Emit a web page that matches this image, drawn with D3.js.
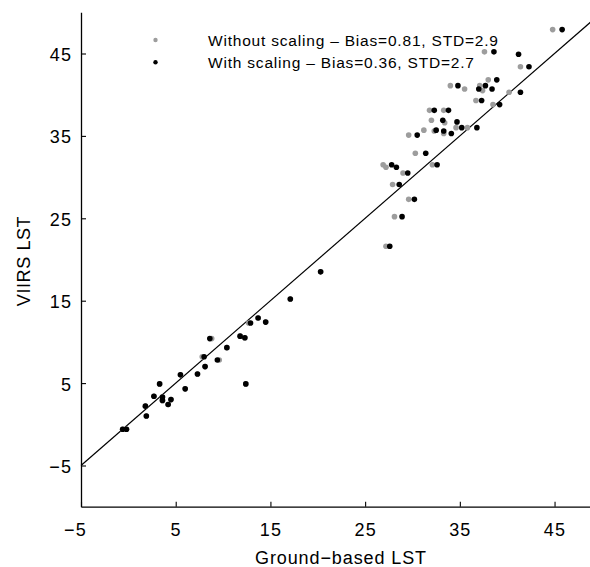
<!DOCTYPE html>
<html>
<head>
<meta charset="utf-8">
<script src="https://cdn.jsdelivr.net/npm/d3@7"></script>
<style>
  html, body { margin: 0; padding: 0; background: #fff; }
  svg { display: block; }
  text { font-family: "Liberation Sans", Arial, Helvetica, sans-serif; fill: #000; }
</style>
</head>
<body>
<svg id="chart" width="590" height="567"></svg>
<script>
// ---- data ----
const xTicks = [-5, 5, 15, 25, 35, 45];
const yTicks = [-5, 5, 15, 25, 35, 45];
const xLabel = "Ground\u2212based LST";
const yLabel = "VIIRS LST";
const legendLabels = [
  "Without scaling \u2013 Bias=0.81, STD=2.9",
  "With scaling \u2013 Bias=0.36, STD=2.7"
];
const refLine = [-5, 50];

// Without scaling (gray)
const grayX = [-0.6,-0.2,1.9,1.8,2.7,3.3,3.6,3.6,4.2,4.5,5.5,6.0,7.3,7.8,8.1,8.8,9.6,10.4,11.8,12.3,12.4,12.7,13.7,14.5,17.1,20.3,
  44.8,37.6,41.4,34.0,35.5,38.0,37.1,37.4,40.2,36.7,38.5,31.8,33.3,32.0,33.4,34.6,35.8,31.2,32.3,33.3,29.6,30.3,26.9,27.2,29.0,32.1,27.9,29.6,28.1,27.2];
const grayY = [-0.6,-0.6,1.0,2.2,3.4,4.9,3.3,2.9,2.4,3.0,6.0,4.3,6.1,8.2,7.0,10.4,7.8,9.3,10.7,10.5,4.9,12.3,12.9,12.4,15.2,18.5,
  47.9,45.2,43.4,41.1,40.7,41.8,41.1,40.5,40.3,39.3,38.8,38.1,38.1,36.9,36.6,36.0,36.0,35.7,35.6,35.3,35.1,32.9,31.5,31.2,30.5,31.5,29.1,27.3,25.2,21.6];

// With scaling (black)
const blackX = [-0.6,-0.2,1.9,1.8,2.7,3.3,3.6,3.6,4.2,4.5,5.5,6.0,7.3,8.0,8.1,8.6,9.4,10.4,11.8,12.3,12.4,12.9,13.7,14.5,17.1,20.3,
  45.8,38.6,41.2,42.3,34.8,37.0,37.7,38.4,38.9,41.4,37.3,39.2,32.3,33.8,33.2,34.7,35.2,36.8,32.5,33.3,34.1,30.5,31.4,27.8,28.3,29.5,32.6,28.6,30.2,28.9,27.6];
const blackY = [-0.6,-0.6,1.0,2.2,3.4,4.9,3.3,2.9,2.4,3.0,6.0,4.3,6.1,8.2,7.0,10.4,7.8,9.3,10.7,10.5,4.9,12.3,12.9,12.4,15.2,18.5,
  47.9,45.2,44.9,43.4,41.1,40.7,41.1,40.7,41.8,40.3,39.3,38.8,38.1,38.1,36.9,36.7,36.0,36.0,35.7,35.6,35.3,35.1,32.9,31.5,31.2,30.5,31.5,29.1,27.3,25.2,21.6];

// ---- layout ----
const svg = d3.select("#chart");
const W = 590, H = 567;
const x = d3.scaleLinear().domain([-5, 50]).range([81, 601.9]);
const y = d3.scaleLinear().domain([-10, 50]).range([506.7, 12.3]);
const GRAY = "#9d9d9d";
const fmt = d => d3.format("")(d).replace("-", "\u2212");

svg.append("rect").attr("width", W).attr("height", H).attr("fill", "#fff");

// axes
const gx = svg.append("g").attr("transform", `translate(0,${y(-10)})`)
  .call(d3.axisBottom(x).tickValues(xTicks).tickSizeInner(-5).tickSizeOuter(0).tickPadding(0).tickFormat(fmt));
const gy = svg.append("g").attr("transform", `translate(${x(-5)},0)`)
  .call(d3.axisLeft(y).tickValues(yTicks).tickSizeInner(-5).tickSizeOuter(0).tickPadding(0).tickFormat(fmt));

[gx, gy].forEach(g => {
  g.select(".domain").attr("stroke", "#000").attr("stroke-width", 1.3);
  g.selectAll(".tick line").attr("stroke", "#000").attr("stroke-width", 1.1);
  g.selectAll(".tick text").attr("font-size", 18).attr("fill", "#000")
    .attr("font-family", '"Liberation Sans", Arial, sans-serif')
    .style("letter-spacing", "1.2px");
});
// digits centred under the tick, minus sign hanging to the left
gx.selectAll(".tick text").attr("dy", null).attr("y", 29.3)
  .attr("x", d => d < 0 ? -6 : 0);
gy.selectAll(".tick text").attr("dy", null).attr("x", -8.8).attr("y", 7);

// reference 1:1 line
svg.append("line")
  .attr("x1", x(refLine[0])).attr("y1", y(refLine[0]))
  .attr("x2", x(refLine[1])).attr("y2", y(refLine[1]))
  .attr("stroke", "#000").attr("stroke-width", 1.2);

// points
const grayPts = grayX.map((v, i) => [v, grayY[i]]);
const blackPts = blackX.map((v, i) => [v, blackY[i]]);
svg.append("g").selectAll("circle").data(grayPts).join("circle")
  .attr("cx", d => x(d[0])).attr("cy", d => y(d[1])).attr("r", 2.8).attr("fill", GRAY);
svg.append("g").selectAll("circle").data(blackPts).join("circle")
  .attr("cx", d => x(d[0])).attr("cy", d => y(d[1])).attr("r", 2.8).attr("fill", "#000");

// legend
const legColors = [GRAY, "#000"];
const leg = svg.append("g");
legendLabels.forEach((t, i) => {
  const cy = 40 + i * 22.3;
  leg.append("circle").attr("cx", 155.5).attr("cy", cy).attr("r", 2.2).attr("fill", legColors[i]);
  leg.append("text").attr("x", 208).attr("y", cy + 5.8).attr("font-size", 15.5)
    .style("letter-spacing", "0.8px").text(t);
});

// axis titles
svg.append("text").attr("x", 341).attr("y", 564).attr("text-anchor", "middle")
  .attr("font-size", 18).style("letter-spacing", "0.9px").text(xLabel);
svg.append("text").attr("transform", "translate(30,261) rotate(-90)").attr("text-anchor", "middle")
  .attr("font-size", 18).style("letter-spacing", "0.6px").text(yLabel);
</script>
</body>
</html>
